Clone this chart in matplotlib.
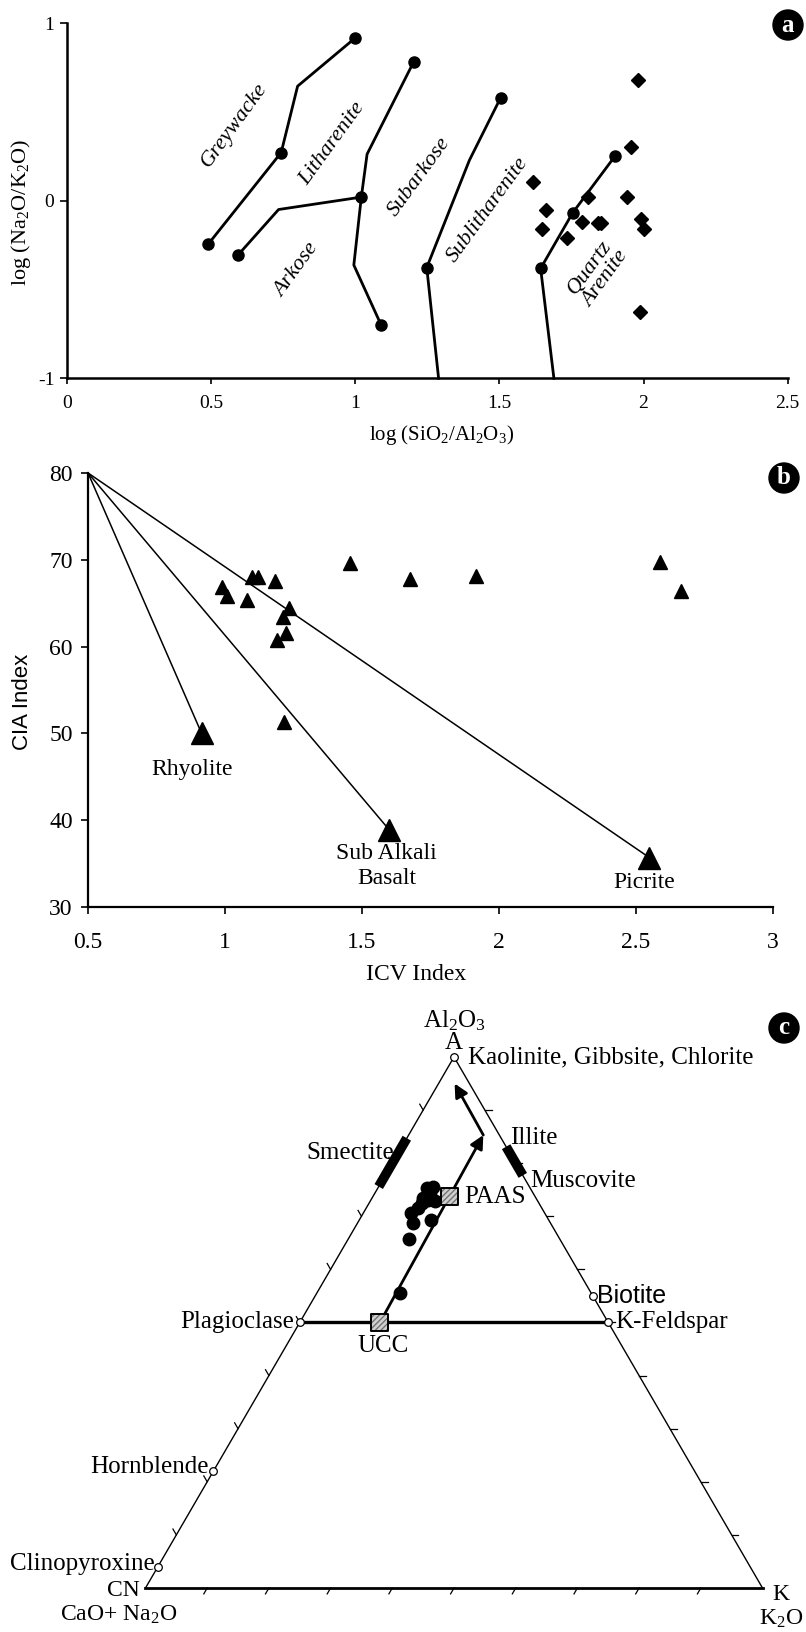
import numpy as np
import matplotlib
matplotlib.use('Agg')
import matplotlib.pyplot as plt

plt.rcParams['font.family'] = ['Liberation Serif', 'DejaVu Serif']
plt.rcParams['mathtext.fontset'] = 'custom'
plt.rcParams['mathtext.rm'] = 'Liberation Serif'
plt.rcParams['mathtext.it'] = 'Liberation Serif:italic'

# ---------------- panel a data (log SiO2/Al2O3 vs log Na2O/K2O)
grey_x = [0.49, 0.743, 0.80, 1.00]
grey_y = [-0.244, 0.272, 0.646, 0.918]
lith_x = [0.593, 0.734, 1.021]
lith_y = [-0.306, -0.049, 0.021]
subark_x = [1.089, 0.995, 1.021, 1.041, 1.202]
subark_y = [-0.697, -0.362, 0.021, 0.263, 0.781]
sublith_x = [1.289, 1.248, 1.396, 1.504]
sublith_y = [-1.0, -0.376, 0.229, 0.580]
qa_x = [1.689, 1.643, 1.754, 1.902]
qa_y = [-1.0, -0.381, -0.068, 0.254]

sample_a_x = [1.616, 1.663, 1.646, 1.736, 1.786, 1.809, 1.843, 1.854,
              1.941, 1.957, 1.979, 1.991, 2.000, 1.986]
sample_a_y = [0.107, -0.049, -0.156, -0.212, -0.122, 0.023, -0.124, -0.124,
              0.023, 0.304, 0.680, -0.100, -0.161, -0.627]

# ---------------- panel b data (ICV vs CIA)
icv = [0.989, 1.008, 1.079, 1.098, 1.122, 1.184, 1.235, 1.212, 1.224, 1.192,
       1.214, 1.455, 1.675, 1.917, 2.588, 2.667]
cia = [66.9, 65.85, 65.4, 68.0, 68.0, 67.5, 64.4, 63.4, 61.6, 60.8,
       51.35, 69.6, 67.8, 68.1, 69.7, 66.35]
origin_b = (0.5, 80)
rock_names = ['Rhyolite', 'Sub Alkali\nBasalt', 'Picrite']
rock_icv = [0.915, 1.60, 2.55]
rock_cia = [50.0, 38.9, 35.7]

# ---------------- panel c data (A-CN-K, percent)
samp_A = [75.3, 75.6, 74.3, 73.4, 73.1, 72.5, 72.8, 70.7, 71.5, 68.7, 69.3, 65.7, 55.5]
samp_K = [7.9, 8.8, 8.9, 8.3, 9.2, 8.5, 10.5, 7.7, 8.4, 9.0, 11.6, 9.9, 13.5]
samp_CN = [100 - a - k for a, k in zip(samp_A, samp_K)]
paas = (73.7, 13.9, 12.4)   # A, CN, K
ucc = (50.0, 37.0, 13.0)
illite_end = (85.3, 2.6, 12.1)
weather_end = (95.0, 2.4, 2.6)
minerals = {
    'Kaolinite, Gibbsite, Chlorite': (100, 0, 0),
    'Plagioclase': (50, 50, 0),
    'K-Feldspar': (50, 0, 50),
    'Biotite': (55, 0, 45),
    'Hornblende': (22, 78, 0),
    'Clinopyroxine': (4, 96, 0),
}
smectite_A = (75.6, 84.7)
illite_A = (77.7, 83.1)

H = 531 / 617


def tern(a, cn, k):
    a, cn, k = np.asarray(a, float), np.asarray(cn, float), np.asarray(k, float)
    s = a + cn + k
    return (k + 0.5 * a) / s, a / s * H


fig = plt.figure(figsize=(8.06, 16.32), dpi=100)

# ================= panel a
ax = fig.add_axes([0.0831, 0.7682, 0.8942, 0.2175])
for xs, ys, me in [(grey_x, grey_y, [0, 1, 3]), (lith_x, lith_y, [0, 2]),
                   (subark_x, subark_y, [0, 4]), (sublith_x, sublith_y, [1, 3]),
                   (qa_x, qa_y, [1, 2, 3])]:
    ax.plot(xs, ys, color='k', lw=2, marker='o', ms=8, markevery=me, clip_on=False)
ax.plot(sample_a_x, sample_a_y, 'D', color='k', ms=7.5, ls='none')
ax.set_xlim(0, 2.5)
ax.set_ylim(-1, 1)
ax.set_xticks([0, 0.5, 1, 1.5, 2, 2.5])
ax.set_xticklabels(['0', '0.5', '1', '1.5', '2', '2.5'])
ax.set_yticks([-1, 0, 1])
ax.set_yticklabels(['-1', '0', '1'])
for s in ['top', 'right']:
    ax.spines[s].set_visible(False)
for s in ['left', 'bottom']:
    ax.spines[s].set_linewidth(1.8)
ax.tick_params(axis='x', direction='out', length=4, width=1.2, labelsize=14, pad=8)
ax.tick_params(axis='y', direction='out', length=5, width=1.2, labelsize=14, pad=4)
ax.set_xlabel('log (SiO$_2$/Al$_2$O$_3$)', fontsize=15)
ax.set_ylabel('log (Na$_2$O/K$_2$O)', fontsize=16)
ax.xaxis.set_label_coords(0.52, -0.126)
ax.yaxis.set_label_coords(-0.047, 0.468)
for txt, x, y in [('Greywacke', 0.58, 0.426), ('Litharenite', 0.92, 0.323),
                  ('Subarkose', 1.223, 0.135), ('Sublitharenite', 1.461, -0.053),
                  ('Arkose', 0.798, -0.39), ('Quartz\nArenite', 1.84, -0.41)]:
    ax.text(x, y, txt, rotation=54, style='italic', fontsize=16, ha='center',
            va='center', rotation_mode='anchor', linespacing=1.0)

# ================= panel b
bx = fig.add_axes([0.1092, 0.4442, 0.8493, 0.2660])
for rx, ry in zip(rock_icv, rock_cia):
    bx.plot([origin_b[0], rx], [origin_b[1], ry], color='k', lw=1.1)
bx.plot(rock_icv, rock_cia, '^', color='k', ms=16, ls='none')
bx.plot(icv, cia, '^', color='k', ms=9.5, ls='none')
label_pos = [(0.88, 45.8), (1.59, 34.7), (2.53, 32.8)]
for name, (lx, ly) in zip(rock_names, label_pos):
    bx.text(lx, ly, name, fontsize=17, ha='center', va='center', linespacing=1.25)
bx.set_xlim(0.5, 3)
bx.set_ylim(30, 80)
bx.set_xticks([0.5, 1, 1.5, 2, 2.5, 3])
bx.set_xticklabels(['0.5', '1', '1.5', '2', '2.5', '3'])
bx.set_yticks([30, 40, 50, 60, 70, 80])
for s in ['top', 'right']:
    bx.spines[s].set_visible(False)
for s in ['left', 'bottom']:
    bx.spines[s].set_linewidth(1.6)
bx.tick_params(axis='x', direction='out', length=5, width=1.2, labelsize=17, pad=13)
bx.tick_params(axis='y', direction='out', length=5, width=1.2, labelsize=17, pad=6)
bx.set_xlabel('ICV Index', fontsize=17)
bx.set_ylabel('CIA Index', fontsize=16, family='Liberation Sans')
bx.xaxis.set_label_coords(0.479, -0.131)
bx.yaxis.set_label_coords(-0.080, 0.472)

# ================= panel c (ternary)
cx = fig.add_axes([0.0, 0.0, 1.0, 0.3934])
cx.set_xlim(-0.2358, 1.0705)
cx.set_ylim(-0.0713, 0.9692)
cx.axis('off')

Ap = tern(100, 0, 0)
CNp = tern(0, 100, 0)
Kp = tern(0, 0, 100)
cx.plot([CNp[0], Ap[0], Kp[0]], [CNp[1], Ap[1], Kp[1]], color='k', lw=1.0)
cx.plot([CNp[0], Kp[0]], [CNp[1], Kp[1]], color='k', lw=2.0)

L = 0.011
for i in range(1, 10):
    f = i / 10
    bxp, byp = tern(0, 1 - f, f)
    cx.plot([bxp, bxp - 0.5 * L], [byp, byp - 0.866 * L], color='k', lw=0.9)
    rxp, ryp = tern(f, 0, 1 - f)
    cx.plot([rxp, rxp + L], [ryp, ryp], color='k', lw=0.9)
    lxp, lyp = tern(f, 1 - f, 0)
    cx.plot([lxp, lxp - 0.5 * L], [lyp, lyp + 0.866 * L], color='k', lw=0.9)

# feldspar join
pl = tern(*minerals['Plagioclase'])
kf = tern(*minerals['K-Feldspar'])
cx.plot([pl[0], kf[0]], [pl[1], kf[1]], color='k', lw=2.4)

# clay bars
s0 = tern(smectite_A[0], 100 - smectite_A[0], 0)
s1 = tern(smectite_A[1], 100 - smectite_A[1], 0)
cx.plot([s0[0], s1[0]], [s0[1], s1[1]], color='k', lw=7, solid_capstyle='butt', zorder=5)
i0 = tern(illite_A[0], 0, 100 - illite_A[0])
i1 = tern(illite_A[1], 0, 100 - illite_A[1])
cx.plot([i0[0], i1[0]], [i0[1], i1[1]], color='k', lw=7, solid_capstyle='butt', zorder=5)

# weathering trend arrows
u = tern(*ucc)
ie = tern(*illite_end)
we = tern(*weather_end)
cx.annotate('', xy=ie, xytext=u,
            arrowprops=dict(arrowstyle='-|>', lw=2, color='k', mutation_scale=20,
                            shrinkA=0, shrinkB=0))
cx.annotate('', xy=we, xytext=ie,
            arrowprops=dict(arrowstyle='-|>', lw=2, color='k', mutation_scale=20,
                            shrinkA=0, shrinkB=0))

# samples
sx, sy = tern(samp_A, samp_CN, samp_K)
cx.plot(sx, sy, 'o', color='k', ms=9, ls='none', zorder=6)

# reference compositions
for comp in [paas, ucc]:
    px, py = tern(*comp)
    cx.scatter([px], [py], marker='s', s=150, facecolor='#d0d0d0', edgecolor='0.45',
               hatch='//////', linewidths=0, zorder=7)
    cx.scatter([px], [py], marker='s', s=150, facecolor='none', edgecolor='k',
               linewidths=1.4, zorder=8)

# minerals
for comp in minerals.values():
    mx, my = tern(*comp)
    cx.plot(mx, my, 'o', ms=5.5, mfc='white', mec='k', mew=0.9, zorder=9)

fs = 18
kw = dict(textcoords='offset points', fontsize=fs, va='center')
cx.annotate('Kaolinite, Gibbsite, Chlorite', Ap, xytext=(10, 0), ha='left', **kw)
cx.annotate('A', Ap, xytext=(0, 10), ha='center', **kw)
cx.annotate('Al$_2$O$_3$', Ap, xytext=(0, 26), ha='center', **kw)
cx.annotate('Illite', i1, xytext=(3, 6), ha='left', **kw)
cx.annotate('Muscovite', i0, xytext=(5, -4), ha='left', **kw)
cx.annotate('Smectite', s1, xytext=(-9, -11), ha='right', zorder=1, **kw)
cx.annotate('PAAS', tern(*paas), xytext=(11, 0), ha='left', **kw)
cx.annotate('UCC', u, xytext=(2, -17), ha='center', **kw)
cx.annotate('Biotite', tern(*minerals['Biotite']), xytext=(3, 0), ha='left',
            family='Liberation Sans', **kw)
cx.annotate('Plagioclase', pl, xytext=(-4, 0), ha='right', **kw)
cx.annotate('K-Feldspar', kf, xytext=(5, 0), ha='left', **kw)
cx.annotate('Hornblende', tern(*minerals['Hornblende']), xytext=(-3, 3), ha='right', **kw)
cx.annotate('Clinopyroxine', tern(*minerals['Clinopyroxine']), xytext=(-2, 2), ha='right', **kw)
kw_small = dict(textcoords='offset points', fontsize=17, va='center')
cx.annotate('CN', CNp, xytext=(-4, -2), ha='right', **kw_small)
cx.annotate('CaO+ Na$_2$O', CNp, xytext=(-19, -19), ha='center', **kw_small)
cx.annotate('K', Kp, xytext=(13.5, -5), ha='center', **kw_small)
cx.annotate('K$_2$O', Kp, xytext=(13.5, -22), ha='center', **kw_small)

# panel letters
for letter, px, py in [('a', 788, 25), ('b', 784, 478), ('c', 784, 1028)]:
    fig.text(px / 806, 1 - py / 1632, letter, ha='center', va='center', color='white',
             fontsize=18, fontweight='bold',
             bbox=dict(boxstyle='circle,pad=0.14', fc='black', ec='black'))

fig.savefig('out.png', dpi=100)
